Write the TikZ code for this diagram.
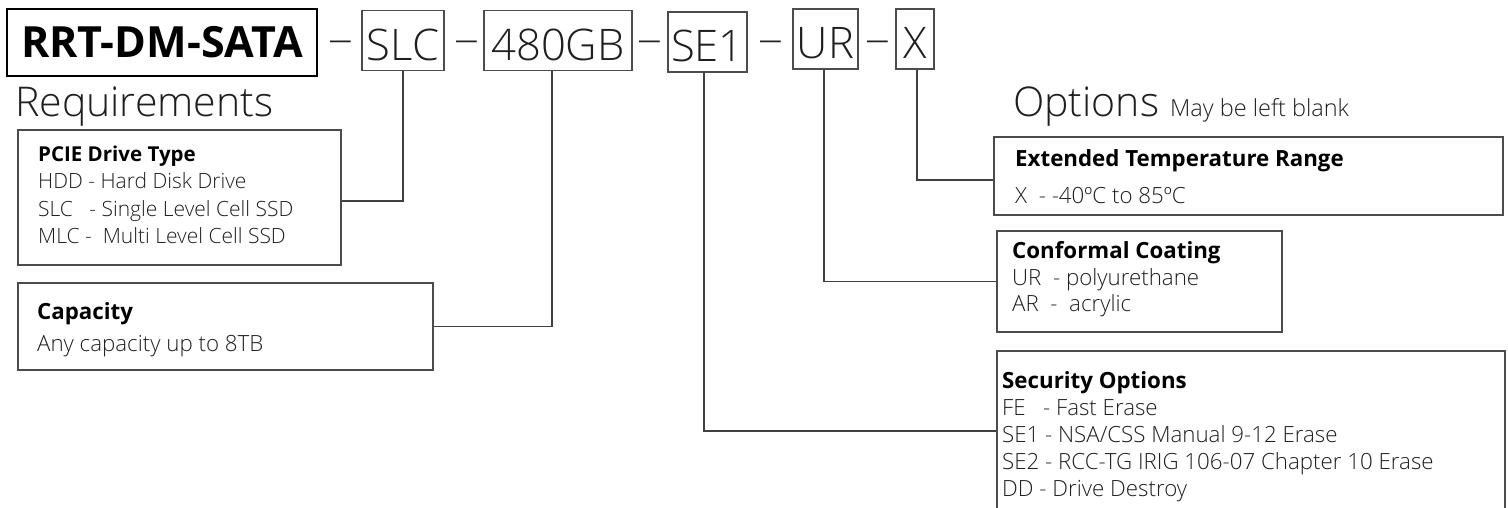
\documentclass[tikz,border=0pt]{standalone}
\usepackage{graphicx}
\usepackage{fontspec}
\IfFontExistsTF{Open Sans Light}{\setmainfont{Open Sans Light}[BoldFont={Open Sans Bold}]}{\setmainfont{Open Sans}}
\definecolor{textc}{gray}{0.12}
\definecolor{boxgray}{gray}{0.30}
\definecolor{linegray}{gray}{0.25}
\begin{document}
\begin{tikzpicture}[x=1pt,y=-1pt,
  box/.style={draw=boxgray, line width=1.2pt, inner sep=0pt, rectangle},
  code/.style={box, text height=40pt, text depth=0pt, minimum height=60pt, text=textc, font=\fontsize{43.5}{44}\selectfont},
  sep/.style={inner sep=0pt, text=textc, font=\fontsize{43}{43}\selectfont},
  conn/.style={draw=linegray, line width=1.2pt},
  big/.style={anchor=base west, inner sep=0pt, text=textc, font=\fontsize{41}{41}\selectfont},
  body/.style={anchor=base west, inner sep=0pt, text=textc, font=\fontsize{21}{21}\selectfont},
  head/.style={anchor=base west, inner sep=0pt, text=black, font=\bfseries\fontsize{20.5}{21}\selectfont},
  bodyl/.style={body, font=\fontsize{22.3}{22}\selectfont},
  headl/.style={head, font=\bfseries\fontsize{22.3}{22}\selectfont},
]
\useasboundingbox (0,0) rectangle (1508,508);
\clip (0,0) rectangle (1508,508);
\fill[white] (0,0) rectangle (1508,508);

% top row
\node[draw=black, line width=2.4pt, inner sep=0pt, minimum width=310pt, minimum height=67pt,
      font=\bfseries\fontsize{43}{43}\selectfont] (title) at (162,42.5) {RRT-DM-SATA};
\node[sep] (d1) at (341,47) {\scalebox{1.15}[1]{–}};
\node[code, minimum width=82pt] (slc) at (403,40.5) {SLC};
\node[sep] (d2) at (467,47) {\scalebox{1.15}[1]{–}};
\node[code, minimum width=148pt] (gb) at (558,40.5) {480GB};
\node[sep] (d3) at (650,47) {\scalebox{1.15}[1]{–}};
\node[code, minimum width=79pt] (se) at (707.5,42) {SE1};
\node[sep] (d4) at (771,47) {\scalebox{1.15}[1]{–}};
\node[code, minimum width=65pt] (ur) at (825.5,39) {UR};
\node[sep] (d5) at (878,47) {\scalebox{1.15}[1]{–}};
\node[code, minimum width=38pt] (xb) at (915,39) {X};

% section titles
\node[big] (req) at (15,117) {Requirements};
\node[big] (opt) at (1013,117) {Options};
\node[body, font=\fontsize{23.5}{24}\selectfont] (blank) at (1170,117) {May be left blank};

% boxes
\node[box, minimum width=323pt, minimum height=135pt] (pcie) at (179.5,197.5) {};
\node[box, minimum width=415pt, minimum height=87pt] (cap) at (225.5,326.5) {};
\node[box, minimum width=509pt, minimum height=78pt] (ext) at (1248.5,176) {};
\node[box, minimum width=285pt, minimum height=101pt] (conf) at (1139.5,281.5) {};
\node[box, minimum width=508pt, minimum height=160pt] (sec) at (1251,431) {};

% texts
\node[head] (p0) at (38,162) {PCIE Drive Type};
\node[body] (p1) at (38,189) {HDD - Hard Disk Drive};
\node[body] (p2) at (38,216) {SLC\ \ \ - Single Level Cell SSD};
\node[body] (p3) at (38,243) {MLC -\ \ Multi Level Cell SSD};

\node[headl] (c0) at (37,319) {Capacity};
\node[bodyl] (c1) at (37,351) {Any capacity up to 8TB};

\node[headl] (e0) at (1015,167) {Extended Temperature Range};
\node[bodyl] (e1) at (1015,204) {X\ \ - -40ºC to 85ºC};

\node[headl] (f0) at (1012,258) {Conformal Coating};
\node[bodyl] (f1) at (1012,285) {UR\ \ - polyurethane};
\node[bodyl] (f2) at (1012,311) {AR\ \ -\ \ acrylic};

\node[headl] (s0) at (1002,388) {Security Options};
\node[bodyl] (s1) at (1002,415) {FE\ \ \ - Fast Erase};
\node[bodyl] (s2) at (1002,442) {SE1 - NSA/CSS Manual 9-12 Erase};
\node[bodyl] (s3) at (1002,469) {SE2 - RCC-TG IRIG 106-07 Chapter 10 Erase};
\node[bodyl] (s4) at (1002,496) {DD - Drive Destroy};

% connectors
\draw[conn] (slc.south) |- ([yshift=-3.5pt]pcie.east);
\draw[conn] ([xshift=-6pt]gb.south) |- (cap.east);
\draw[conn] ([xshift=-3.5pt]se.south) |- (sec.west);
\draw[conn] ([xshift=-1.5pt]ur.south) |- (conf.west);
\draw[conn] ([xshift=2pt]xb.south) |- ([yshift=-4pt]ext.west);
\end{tikzpicture}
\end{document}
